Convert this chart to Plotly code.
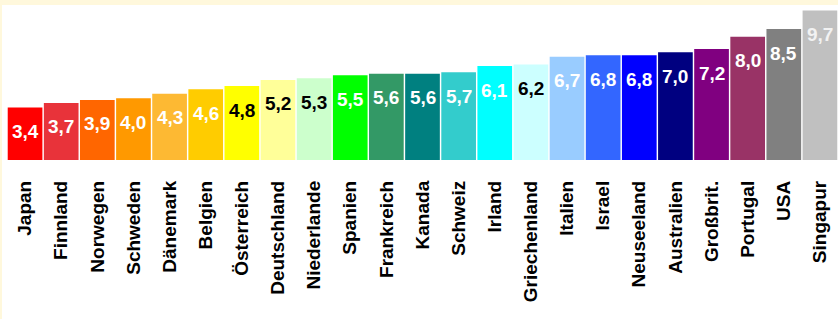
import plotly.graph_objects as go

countries = ["Japan", "Finnland", "Norwegen", "Schweden", "Dänemark", "Belgien",
             "Österreich", "Deutschland", "Niederlande", "Spanien", "Frankreich",
             "Kanada", "Schweiz", "Irland", "Griechenland", "Italien", "Israel",
             "Neuseeland", "Australien", "Großbrit.", "Portugal", "USA", "Singapur"]
values = [3.4, 3.7, 3.9, 4.0, 4.3, 4.6, 4.8, 5.2, 5.3, 5.5, 5.6, 5.6, 5.7, 6.1,
          6.2, 6.7, 6.8, 6.8, 7.0, 7.2, 8.0, 8.5, 9.7]
bar_colors = ["#FF0000", "#E8333A", "#FF6600", "#FF9900", "#FDB933", "#FFCC00",
              "#FFFF00", "#FFFF99", "#CCFFCC", "#00FF00", "#339966", "#008080",
              "#33CCCC", "#00FFFF", "#CCFFFF", "#99CCFF", "#3366FF", "#0000FF",
              "#000080", "#800080", "#993366", "#808080", "#C0C0C0"]
label_colors = ["white"] * 6 + ["black", "black", "black"] + ["white"] * 5 + \
               ["black"] + ["white"] * 7 + ["#F2F2F2"]

FONT = "Liberation Sans, Arial, sans-serif"

fig = go.Figure(go.Bar(
    x=countries, y=values, marker=dict(color=bar_colors, line=dict(width=0)),
    hoverinfo="skip",
))

annotations = []
for c, v, col in zip(countries, values, label_colors):
    annotations.append(dict(
        x=c, y=v, xref="x", yref="y", text=f"{v:.1f}".replace(".", ","),
        showarrow=False, yanchor="middle", yshift=-24,
        font=dict(family=FONT, size=19, color=col, weight="bold"),
    ))

fig.update_layout(
    width=838, height=319,
    margin=dict(l=7, r=0, t=5, b=159),
    paper_bgcolor="#FFF8DC", plot_bgcolor="white",
    bargap=0.04, showlegend=False,
    annotations=annotations,
    shapes=[dict(type="rect", xref="paper", yref="paper",
                 x0=-5 / 831, x1=1.05, y0=-1.2, y1=1,
                 fillcolor="white", line=dict(width=0), layer="below")],
    xaxis=dict(tickangle=-90, showline=False, showgrid=False, ticks="",
               ticklabelstandoff=16,
               tickfont=dict(family=FONT, size=19, color="black", weight="bold")),
    yaxis=dict(range=[0, 10.06], visible=False, showgrid=False, zeroline=False),
)

fig.write_html("out.html", config={"displayModeBar": False},
               post_script="document.body.style.margin='0';"
                           "document.body.style.overflow='hidden';")
